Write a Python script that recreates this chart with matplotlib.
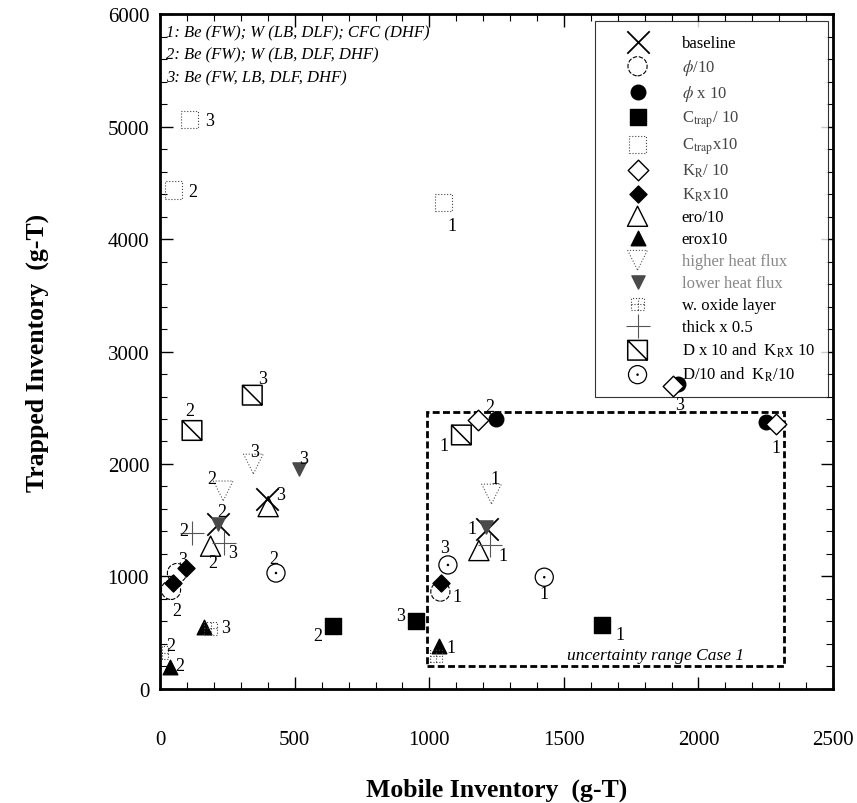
import matplotlib.pyplot as plt
from matplotlib.path import Path
from matplotlib.patches import Rectangle
from matplotlib.ticker import MultipleLocator

plt.rcParams['font.family'] = 'serif'
plt.rcParams['font.serif'] = ['Liberation Serif', 'DejaVu Serif']
plt.rcParams['mathtext.fontset'] = 'stix'

# case numbers (1, 2, 3) for every series
cases = ['1', '2', '3']

# values: (mobile, trapped) per case
baseline_x = [1216, 214, 396]
baseline_y = [1422, 1463, 1687]
phi_div_x = [1041, 40, 62]
phi_div_y = [865, 880, 1030]
phi_mul_x = [2250, 1247, 1925]
phi_mul_y = [2370, 2400, 2710]
ctrap_div_x = [1640, 641, 950]
ctrap_div_y = [569, 558, 605]
ctrap_mul_x = [1051, 50, 107]
ctrap_mul_y = [4324, 4437, 5065]
kr_div_x = [2287, 1181, 1906]
kr_div_y = [2356, 2394, 2690]
kr_mul_x = [1044, 47, 97]
kr_mul_y = [939, 940, 1075]
ero_div_x = [1184, 187, 401]
ero_div_y = [1230, 1269, 1621]
ero_mul_x = [1037, 37, 162]
ero_mul_y = [385, 194, 552]
hhf_x = [1231, 234, 346]
hhf_y = [1733, 1761, 2000]
lhf_x = [1212, 214, 517]
lhf_y = [1437, 1463, 1955]
oxide_x = [1025, 5, 187]
oxide_y = [290, 322, 537]
thick_x = [1225, 118, 237]
thick_y = [1280, 1388, 1298]
dkr_mul_x = [1119, 118, 342]
dkr_mul_y = [2258, 2298, 2612]
dkr_div_x = [1427, 430, 1069]
dkr_div_y = [993, 1030, 1102]

legend_labels = [
    'baseline', r'$\phi$/10', r'$\phi$ x 10', r'C$_{\rm trap}$/ 10', r'C$_{\rm trap}$x10',
    r'K$_{\rm R}$/ 10', r'K$_{\rm R}$x10', 'ero/10', 'erox10', 'higher heat flux',
    'lower heat flux', 'w. oxide layer', 'thick x 0.5',
    r'D x 10 and  K$_{\rm R}$x 10', r'D/10 and  K$_{\rm R}$/10',
]

# custom marker shapes
M, L, C = Path.MOVETO, Path.LINETO, Path.CLOSEPOLY
oxide_marker = Path([(-1, -1), (1, -1), (1, 1), (-1, 1), (-1, -1), (0, -1), (0, 1), (-1, 0), (1, 0)],
                    [M, L, L, L, C, M, L, M, L])
diag_marker = Path([(-1, -1), (1, -1), (1, 1), (-1, 1), (-1, -1), (-1, 1), (1, -1)],
                   [M, L, L, L, C, M, L])
dot_circle = Path.make_compound_path(Path.unit_circle(), Path.circle((0, 0), 0.07))

# series: x, y, marker style, label offsets (pixels) per case (None = no label)
series = [
    (baseline_x, baseline_y, dict(marker='x', s=260, c='black', linewidths=1.3),
     [(-16, 0), (4, 13), (14, 5)]),
    (phi_div_x, phi_div_y, dict(marker='o', s=190, facecolors='none', edgecolors='black', linewidths=0.8, linestyle=(0, (4, 1.5))),
     [(17, -5), (6, -21), None]),
    (phi_mul_x, phi_mul_y, dict(marker='o', s=110, c='black'),
     [None, (-6, 13), None]),
    (ctrap_div_x, ctrap_div_y, dict(marker='s', s=120, c='black'),
     [(18, -10), (-15, -9), (-15, 5)]),
    (ctrap_mul_x, ctrap_mul_y, dict(marker='s', s=150, facecolors='none', edgecolors='#444444', linewidths=0.8, linestyle=':'),
     [(9, -23), (19, -2), (21, -1)]),
    (kr_div_x, kr_div_y, dict(marker='D', s=110, facecolors='white', edgecolors='black', linewidths=1.0),
     [(0, -24), None, (6, -18)]),
    (kr_mul_x, kr_mul_y, dict(marker='D', s=75, c='black'),
     [None, None, (-4, 8)]),
    (ero_div_x, ero_div_y, dict(marker='^', s=210, facecolors='none', edgecolors='black', linewidths=1.0),
     [None, (2, -16), None]),
    (ero_mul_x, ero_mul_y, dict(marker='^', s=110, c='black'),
     [(12, -2), (10, 2), None]),
    (hhf_x, hhf_y, dict(marker='v', s=200, facecolors='none', edgecolors='#555555', linewidths=0.8, linestyle=':'),
     [(3, 15), (-11, 12), (1, 12)]),
    (lhf_x, lhf_y, dict(marker='v', s=90, c='#4a4a4a'),
     [None, None, (4, 11)]),
    (oxide_x, oxide_y, dict(marker=oxide_marker, s=80, facecolors='none', edgecolors='#444444', linewidths=0.8, linestyle=':'),
     [None, (9, 7), (15, 1)]),
    (thick_x, thick_y, dict(marker='+', s=300, c='#555555', linewidths=0.8),
     [(13, -11), (-8, 2), (9, -10)]),
    (dkr_mul_x, dkr_mul_y, dict(marker=diag_marker, s=200, facecolors='none', edgecolors='black', linewidths=1.1),
     [(-17, -11), (-2, 20), (10, 17)]),
    (dkr_div_x, dkr_div_y, dict(marker=dot_circle, s=170, facecolors='none', edgecolors='black', linewidths=0.9),
     [(0, -16), (-2, 15), (-3, 17)]),
]

fig = plt.figure(figsize=(8.57, 8.04), dpi=100)
ax = fig.add_axes([0.187, 0.142, 0.785, 0.839])

handles = []
for xs, ys, style, offsets in series:
    h = ax.scatter(xs, ys, zorder=3, **style)
    handles.append(h)
    for x, y, case, off in zip(xs, ys, cases, offsets):
        if off is None:
            continue
        ax.annotate(case, (x, y), xytext=off, textcoords='offset pixels',
                    ha='center', va='center', fontsize=13, zorder=4)

# uncertainty range of case 1
ax.add_patch(Rectangle((993, 207), 2319 - 993, 2465 - 207, fill=False,
                       edgecolor='black', linewidth=2, linestyle=(0, (2.5, 1.2)), zorder=2))
ax.text(2168, 300, 'uncertainty range Case 1', style='italic', fontsize=12.5,
        ha='right', va='center')

# case key, upper left
ax.text(20, 5840, '1: Be (FW); W (LB, DLF); CFC (DHF)', style='italic', fontsize=12, va='center')
ax.text(20, 5640, '2: Be (FW); W (LB, DLF, DHF)', style='italic', fontsize=12, va='center')
ax.text(20, 5440, '3: Be (FW, LB, DLF, DHF)', style='italic', fontsize=12, va='center')

leg = ax.legend(handles, legend_labels, loc='upper right', bbox_to_anchor=(0.9926, 0.9896),
                borderaxespad=0, scatterpoints=1, fontsize=12, frameon=True,
                fancybox=False, edgecolor='black', labelspacing=0.36,
                handlelength=3.5, handletextpad=0.9, borderpad=0.8)
leg.get_frame().set_linewidth(0.8)
leg.set_zorder(2.5)
for t in leg.get_texts()[1:7]:
    t.set_color('#444444')
for t in leg.get_texts()[9:11]:
    t.set_color('#888888')

ax.set_xlim(0, 2500)
ax.set_ylim(0, 6000)
ax.xaxis.set_major_locator(MultipleLocator(500))
ax.xaxis.set_minor_locator(MultipleLocator(100))
ax.yaxis.set_major_locator(MultipleLocator(1000))
ax.yaxis.set_minor_locator(MultipleLocator(200))
ax.tick_params(which='both', direction='in', top=True, right=True, labelsize=15)
ax.tick_params(which='major', length=9, width=1)
ax.tick_params(which='minor', length=5, width=0.8)
ax.tick_params(axis='x', pad=30)
ax.tick_params(axis='y', pad=8)
for sp in ax.spines.values():
    sp.set_linewidth(2)

ax.set_xlabel('Mobile Inventory  (g-T)', fontsize=18.5, fontweight='bold', labelpad=20)
ax.set_ylabel('Trapped Inventory  (g-T)', fontsize=18.5, fontweight='bold', labelpad=42)

fig.savefig('out.png', dpi=100)
